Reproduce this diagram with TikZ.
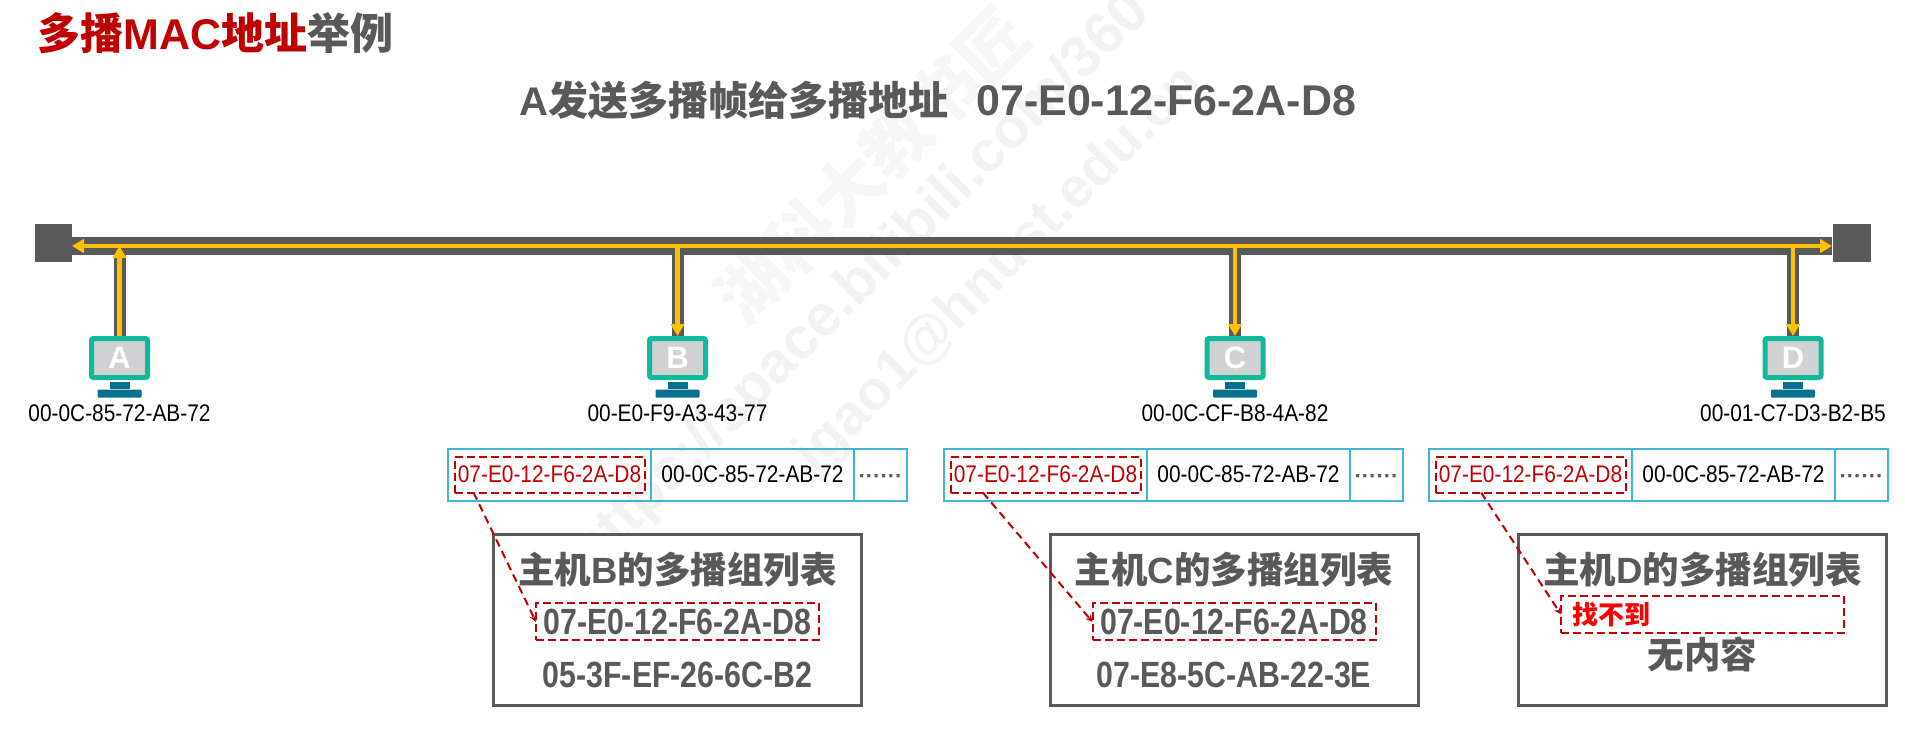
\documentclass[tikz,border=0pt]{standalone}
\usepackage{fontspec}
\usepackage{xcolor}
\usepackage{tikz}
\usetikzlibrary{positioning,arrows.meta,calc}
\setmainfont{Liberation Sans}
\newfontfamily\zhfont{Noto Sans CJK SC}
\newfontfamily\addrfont[FakeStretch=0.87]{Liberation Sans}
\newfontfamily\listfont[FakeStretch=0.83]{Liberation Sans}
\newcommand{\zh}[1]{{\zhfont #1}}
\definecolor{wiregray}{HTML}{595959}
\definecolor{signalyellow}{HTML}{FFC000}
\definecolor{darkred}{HTML}{C00000}
\definecolor{tablecyan}{HTML}{3FB4D4}
\definecolor{pcgreen}{HTML}{10B89C}
\definecolor{pcscreen}{HTML}{D0D1D3}
\definecolor{pcstand}{HTML}{08708F}
\definecolor{markgray}{HTML}{F2F2F2}
\definecolor{marklight}{HTML}{F6F6F6}

\begin{document}
\begin{tikzpicture}[
  x=1pt, y=-1pt,
  node distance=0pt and 0pt,
  buscap/.style={fill=wiregray, minimum size=37.5pt, inner sep=0pt},
  wire/.style={draw=wiregray},
  sigline/.style={draw=signalyellow, line width=4.5pt},
  bustip/.tip={Triangle[length=12pt, width=13.5pt]},
  pc/.style={draw=pcgreen, line width=5pt, fill=pcscreen, rounded corners=2pt, minimum width=56pt, minimum height=39pt, inner sep=0pt, text=white, font=\fontsize{31}{31}\selectfont\bfseries},
  pcneck/.style={fill=pcstand, minimum width=20pt, minimum height=7pt, inner sep=0pt},
  pcbase/.style={fill=pcstand, rounded corners=1pt, minimum width=44pt, minimum height=8pt, inner sep=0pt},
  addr/.style={inner sep=0pt, font=\fontsize{24}{24}\selectfont\addrfont},
  cell/.style={draw=tablecyan, line width=2pt, outer sep=0pt, inner sep=0pt, minimum height=52pt},
  dests/.style={cell, minimum width=203pt},
  morecell/.style={cell, minimum width=53pt},
  hit/.style={draw=darkred, line width=2pt, dash pattern=on 8pt off 4pt, inner sep=0pt, outer sep=0pt},
  rowhit/.style={hit, minimum width=190pt, minimum height=36pt, text=darkred, font=\fontsize{24}{24}\selectfont\addrfont},
  listhit/.style={hit, minimum width=283pt, minimum height=37pt},
  listbox/.style={draw=wiregray, line width=3pt, fill=white, minimum width=368pt, minimum height=171pt},
  listhead/.style={inner sep=0pt, text=wiregray, minimum height=40pt, font=\fontsize{36.5}{36.5}\selectfont\bfseries},
  listaddr/.style={inner sep=0pt, text=wiregray, minimum height=37pt, font=\fontsize{36.5}{36.5}\selectfont\listfont\bfseries},
  dotfill/.style={text=wiregray, inner sep=0pt, yshift=-5pt, font=\fontsize{22}{22}\selectfont\bfseries},
  link/.style={draw=darkred, line width=2pt, dash pattern=on 8pt off 5pt, -{Stealth[length=7pt, width=7pt]}},
  watermark/.style={text=markgray, rotate=45, inner sep=0pt}]

\useasboundingbox (0,0) rectangle (1905,734);

\node[watermark, text=marklight, font=\fontsize{68}{68}\selectfont\bfseries] (markname) at (872,165) {\zh{湖科大教书匠}};
\node[watermark, font=\fontsize{58}{58}\selectfont\bfseries] (markurl) at (862,283) {https://space.bilibili.com/360};
\node[watermark, font=\fontsize{56}{56}\selectfont\bfseries] (markmail) at (1000,270) {jgao1@hnust.edu.cn};

\node[anchor=west, inner sep=0pt, text=darkred, font=\fontsize{43}{43}\selectfont\bfseries] (title) at (37,33) {\zh{多播}MAC\zh{地址}\textcolor{wiregray}{\zh{举例}}};
\node[inner sep=0pt, text=wiregray, font=\fontsize{40}{40}\selectfont\bfseries] (subtitle) at (938,100) {A\zh{发送多播帧给多播地址}\hspace{27.5pt}\fontsize{43}{43}\selectfont 07-E0-12-F6-2A-D8};

\node[buscap] (capl) at (53.5,243) {};
\node[buscap] (capr) at (1852,243) {};
\coordinate (busl) at (72,246);
\coordinate (busr) at (1832,246);

\node[pc] (pca) at (119.5,358) {A};
\node[pcneck, below=2pt of pca] (necka) {};
\node[pcbase, below=0pt of necka] (basea) {};
\node[addr, below=7pt of basea] (addra) {00-0C-85-72-AB-72};

\node[pc] (pcb) at (677.5,358) {B};
\node[pcneck, below=2pt of pcb] (neckb) {};
\node[pcbase, below=0pt of neckb] (baseb) {};
\node[addr, below=7pt of baseb] (addrb) {00-E0-F9-A3-43-77};

\node[pc] (pcc) at (1235,358) {C};
\node[pcneck, below=2pt of pcc] (neckc) {};
\node[pcbase, below=0pt of neckc] (basec) {};
\node[addr, below=7pt of basec] (addrc) {00-0C-CF-B8-4A-82};

\node[pc] (pcd) at (1793,358) {D};
\node[pcneck, below=2pt of pcd] (neckd) {};
\node[pcbase, below=0pt of neckd] (based) {};
\node[addr, below=7pt of based] (addrd) {00-01-C7-D3-B2-B5};

\draw[wire, line width=18pt] (busl) -- (busr);
\draw[wire, line width=12pt] (pca.north) -- (pca.north |- busl);
\draw[wire, line width=12pt] (pcb.north) -- (pcb.north |- busl);
\draw[wire, line width=12pt] (pcc.north) -- (pcc.north |- busl);
\draw[wire, line width=12pt] (pcd.north) -- (pcd.north |- busl);
\draw[sigline, {bustip}-{bustip}] (busl) -- (busr);
\draw[sigline, -{bustip}] (pca.north) -- (pca.north |- busl);
\draw[sigline, -{bustip}] (pcb.north |- busl) -- (pcb.north);
\draw[sigline, -{bustip}] (pcc.north |- busl) -- (pcc.north);
\draw[sigline, -{bustip}] (pcd.north |- busl) -- (pcd.north);

\node[dests] (dstb) at (549.5,474.5) {};
\node[dests, right=0pt of dstb] (srcb) {\fontsize{24}{24}\selectfont\addrfont 00-0C-85-72-AB-72};
\node[morecell, right=0pt of srcb] (moreb) {};
\node[dotfill] (dotsb) at (moreb.center) {······};
\node[rowhit] (rowb) at (dstb.center) {07-E0-12-F6-2A-D8};

\node[dests] (dstc) at (1045.5,474.5) {};
\node[dests, right=0pt of dstc] (srcc) {\fontsize{24}{24}\selectfont\addrfont 00-0C-85-72-AB-72};
\node[morecell, right=0pt of srcc] (morec) {};
\node[dotfill] (dotsc) at (morec.center) {······};
\node[rowhit] (rowc) at (dstc.center) {07-E0-12-F6-2A-D8};

\node[dests] (dstd) at (1530.5,474.5) {};
\node[dests, right=0pt of dstd] (srcd) {\fontsize{24}{24}\selectfont\addrfont 00-0C-85-72-AB-72};
\node[morecell, right=0pt of srcd] (mored) {};
\node[dotfill] (dotsd) at (mored.center) {······};
\node[rowhit] (rowd) at (dstd.center) {07-E0-12-F6-2A-D8};

\node[listbox] (listb) at (677.5,620) {};
\node[listhead, below=16pt of listb.north] (headb) {\zh{主机}B\zh{的多播组列表}};
\node[listhit, below=14pt of headb] (hitb) {};
\node[listaddr] (firstb) at (hitb.center) {07-E0-12-F6-2A-D8};
\node[listaddr, below=16pt of hitb] (secondb) {05-3F-EF-26-6C-B2};

\node[listbox] (listc) at (1234,620) {};
\node[listhead, below=16pt of listc.north] (headc) {\zh{主机}C\zh{的多播组列表}};
\node[listhit, below=14pt of headc] (hitc) {};
\node[listaddr] (firstc) at (hitc.center) {07-E0-12-F6-2A-D8};
\node[listaddr, below=16pt of hitc] (secondc) {07-E8-5C-AB-22-3E};

\node[listbox] (listd) at (1702.5,620) {};
\node[listhead, below=16pt of listd.north] (headd) {\zh{主机}D\zh{的多播组列表}};
\node[listhit, below=6.5pt of headd] (hitd) {};
\node[inner sep=0pt, right=11pt of hitd.west, text=red, font=\fontsize{26}{26}\selectfont\bfseries] (nofind) {\zh{找不到}};
\node[inner sep=0pt, text=wiregray, minimum height=37pt, below=2.5pt of hitd, font=\fontsize{36.5}{36.5}\selectfont\bfseries] (noitem) {\zh{无内容}};

\draw[link] ($(rowb.south west)!0.1!(rowb.south east)$) -- (hitb.west);
\draw[link] ($(rowc.south west)!0.17!(rowc.south east)$) -- (hitc.west);
\draw[link] ($(rowd.south west)!0.24!(rowd.south east)$) -- (hitd.west);
\end{tikzpicture}
\end{document}
